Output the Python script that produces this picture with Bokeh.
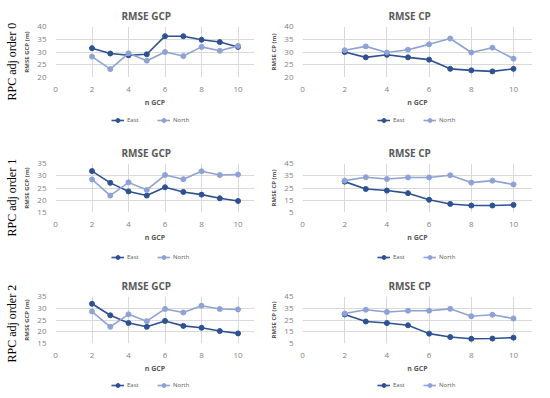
from bokeh.plotting import figure
from bokeh.layouts import column, row
from bokeh.models import Range1d, FixedTicker, Legend, LegendItem, Title
from bokeh.embed import file_html
from bokeh.resources import INLINE

n_gcp = [2, 3, 4, 5, 6, 7, 8, 9, 10]
x_ticks = [0, 2, 4, 6, 8, 10]
row_labels = ["RPC adj order 0", "RPC adj order 1", "RPC adj order 2"]
series_names = ["East", "North"]

gcp0_east = [31.5, 29.4, 28.7, 29.1, 36.2, 36.2, 34.8, 33.9, 32.0]
gcp0_north = [28.2, 23.3, 29.5, 26.6, 30.0, 28.4, 32.0, 30.5, 32.4]
cp0_east = [30.0, 27.9, 28.9, 27.9, 27.0, 23.4, 22.8, 22.4, 23.4]
cp0_north = [30.7, 32.2, 29.8, 30.9, 33.0, 35.3, 29.8, 31.7, 27.4]
gcp1_east = [31.9, 27.1, 23.6, 21.9, 25.3, 23.4, 22.3, 20.8, 19.7]
gcp1_north = [28.5, 21.9, 27.3, 24.2, 30.3, 28.6, 31.8, 30.3, 30.5]
cp1_east = [30.2, 24.2, 22.9, 20.8, 15.4, 12.0, 10.7, 10.7, 11.2]
cp1_north = [31.0, 33.8, 32.3, 33.6, 33.6, 35.4, 29.4, 31.0, 27.9]
gcp2_east = [31.9, 27.0, 23.7, 22.1, 24.6, 22.5, 21.7, 20.3, 19.3]
gcp2_north = [28.6, 22.1, 27.4, 24.5, 29.7, 28.2, 31.1, 29.7, 29.5]
cp2_east = [29.7, 23.7, 22.4, 20.5, 13.4, 10.5, 9.0, 9.2, 10.0]
cp2_north = [30.5, 33.7, 31.8, 32.9, 32.9, 34.5, 28.2, 29.5, 26.3]

gcp_yticks_0 = [20, 25, 30, 35, 40]
cp_yticks_0 = [20, 25, 30, 35, 40]
gcp_yticks_12 = [15, 20, 25, 30, 35]
cp_yticks_12 = [5, 15, 25, 35, 45]

EAST = "#2d5192"
NORTH = "#8ea2d6"
FONT = "Open Sans"
W = 267
LEFT_B = (51, 13)
RIGHT_B = (35, 2)


def draw_series(p, east, north):
    le = p.line(n_gcp, east, line_color=EAST, line_width=1.6)
    ce = p.scatter(n_gcp, east, marker="circle", size=5, color=EAST)
    ln = p.line(n_gcp, north, line_color=NORTH, line_width=1.6)
    cn = p.scatter(n_gcp, north, marker="circle", size=5, color=NORTH)
    return (le, ce), (ln, cn)


def panel(title, ylab, east, north, yticks, h, borders, bt, bb, title_x,
          row_label=None, lab_offset=0):
    bl, br = borders
    p = figure(width=W, height=h, x_range=Range1d(0, 10.9),
               y_range=Range1d(yticks[0], yticks[-1]),
               output_backend="svg", toolbar_location=None, title=title,
               min_border_left=bl, min_border_right=br,
               min_border_top=bt, min_border_bottom=bb)
    p.title.align = "left"
    p.title.offset = title_x
    p.title.text_font = FONT
    p.title.text_font_size = "10px"
    p.title.text_font_style = "bold"
    p.title.text_color = "#595959"
    p.title.standoff = 7
    p.xaxis.ticker = FixedTicker(ticks=x_ticks)
    p.yaxis.ticker = FixedTicker(ticks=yticks)
    p.xaxis.axis_label = "n GCP"
    p.yaxis.axis_label = ylab
    for ax in (p.xaxis[0], p.yaxis[0]):
        ax.axis_line_color = None
        ax.major_tick_line_color = None
        ax.minor_tick_line_color = None
        ax.major_label_text_font = FONT
        ax.major_label_text_font_size = "8px"
        ax.major_label_text_color = "#7f7f7f"
        ax.major_label_standoff = 3
        ax.axis_label_text_font = FONT
        ax.axis_label_text_font_style = "bold"
        ax.axis_label_text_color = "#595959"
        ax.axis_label_standoff = 3
    p.xaxis.axis_label_text_font_size = "7px"
    p.yaxis.axis_label_text_font_size = "6px"
    p.xgrid.grid_line_color = "#d9d9d9"
    p.ygrid.grid_line_color = "#d9d9d9"
    p.outline_line_color = None
    draw_series(p, east, north)
    if row_label is not None:
        p.add_layout(Title(text=row_label, align="left", offset=lab_offset,
                           text_font="Liberation Serif", text_font_size="12px",
                           text_font_style="normal", text_color="#000000",
                           standoff=4), "left")
    return p


def legend_fig(east, north, h, borders, lx, ly):
    bl, br = borders
    p = figure(width=W, height=h, x_range=Range1d(0, 1), y_range=Range1d(0, 1),
               x_axis_location=None, y_axis_location=None,
               output_backend="svg", toolbar_location=None,
               min_border_left=bl, min_border_right=br,
               min_border_top=0, min_border_bottom=0)
    p.grid.visible = False
    p.outline_line_color = None
    (le, ce), (ln, cn) = draw_series(p, east, north)
    legend = Legend(items=[LegendItem(label=series_names[0], renderers=[le, ce]),
                           LegendItem(label=series_names[1], renderers=[ln, cn])],
                    orientation="horizontal", location=(lx, ly),
                    label_text_font=FONT, label_text_font_size="6px",
                    label_text_color="#595959", glyph_width=13, glyph_height=10,
                    label_standoff=3, spacing=10, padding=2, margin=0,
                    border_line_color=None, background_fill_alpha=0)
    p.add_layout(legend, "center")
    return p


# row 1
p1 = panel("RMSE GCP", "RMSE GCP (m)", gcp0_east, gcp0_north, gcp_yticks_0, 109, LEFT_B, 26, 30, 66,
           row_labels[0], -23)
p2 = panel("RMSE CP", "RMSE CP (m)", cp0_east, cp0_north, cp_yticks_0, 109, RIGHT_B, 26, 30, 86)
g1 = legend_fig(gcp0_east, gcp0_north, 28, LEFT_B, 60, 12)
g2 = legend_fig(cp0_east, cp0_north, 28, RIGHT_B, 75, 12)
# row 2
p3 = panel("RMSE GCP", "RMSE GCP (m)", gcp1_east, gcp1_north, gcp_yticks_12, 107, LEFT_B, 26, 30, 66,
           row_labels[1], -24)
p4 = panel("RMSE CP", "RMSE CP (m)", cp1_east, cp1_north, cp_yticks_12, 107, RIGHT_B, 26, 30, 86)
g3 = legend_fig(gcp1_east, gcp1_north, 26, LEFT_B, 60, 8)
g4 = legend_fig(cp1_east, cp1_north, 26, RIGHT_B, 75, 8)
# row 3
p5 = panel("RMSE GCP", "RMSE GCP (m)", gcp2_east, gcp2_north, gcp_yticks_12, 105, LEFT_B, 26, 30, 66,
           row_labels[2], -19)
p6 = panel("RMSE CP", "RMSE CP (m)", cp2_east, cp2_north, cp_yticks_12, 105, RIGHT_B, 26, 30, 86)
g5 = legend_fig(gcp2_east, gcp2_north, 15, LEFT_B, 60, 0)
g6 = legend_fig(cp2_east, cp2_north, 15, RIGHT_B, 75, 0)

layout = column(
    row(p1, p2), row(g1, g2),
    row(p3, p4), row(g3, g4),
    row(p5, p6), row(g5, g6),
)

open("out.html", "w").write(file_html(layout, INLINE))
